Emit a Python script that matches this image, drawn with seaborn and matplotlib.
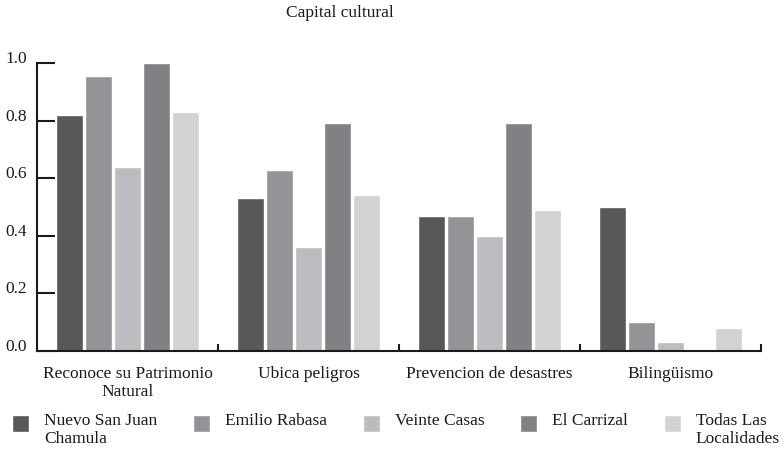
import numpy as np
import pandas as pd
import matplotlib
matplotlib.use("Agg")
import matplotlib.pyplot as plt
import seaborn as sns

categorias = ["Reconoce su Patrimonio\nNatural", "Ubica peligros",
              "Prevencion de desastres", "Bilingüismo"]
localidades = ["Nuevo San Juan\nChamula", "Emilio Rabasa", "Veinte Casas",
               "El Carrizal", "Todas Las\nLocalidades"]
nuevo_san_juan = [0.82, 0.53, 0.47, 0.50]
emilio_rabasa = [0.955, 0.63, 0.47, 0.10]
veinte_casas = [0.64, 0.36, 0.40, 0.03]
el_carrizal = [1.00, 0.79, 0.79, 0.00]
todas = [0.83, 0.54, 0.49, 0.08]
colores = ["#58585a", "#939497", "#bcbdc0", "#808184", "#d1d2d4"]

series = [nuevo_san_juan, emilio_rabasa, veinte_casas, el_carrizal, todas]
rows = []
for loc, vals in zip(localidades, series):
    for cat, v in zip(categorias, vals):
        rows.append({"cat": cat, "loc": loc, "val": v})
df = pd.DataFrame(rows)

sns.set_style("white")
plt.rcParams["font.family"] = ["Liberation Serif", "DejaVu Serif"]
txt = "#1a1a1a"
fs = 12.5

fig = plt.figure(figsize=(7.84, 4.51), dpi=100)
ax = fig.add_axes([37/784, 1-351/451, (761-37)/784, (351-63)/451])

sns.barplot(data=df, x="cat", y="val", hue="loc", palette=colores,
            width=0.8, gap=0.07, saturation=1, ax=ax, legend=True)

ax.set_ylim(0, 1.0)
ax.set_xlim(-0.5, 3.5)
ax.set_xlabel("")
ax.set_ylabel("")
ax.set_yticks([0, 0.2, 0.4, 0.6, 0.8, 1.0])
ax.set_yticklabels(["0.0", "0.2", "0.4", "0.6", "0.8", "1.0"])
ax.tick_params(axis="y", left=True, direction="in", length=13, width=1.5,
               labelsize=fs, pad=0, color=txt, labelcolor=txt)
for lab in ax.get_yticklabels():
    lab.set_horizontalalignment("left")
    lab.set_verticalalignment("baseline")
    lab.set_x(-0.044)
ax.tick_params(axis="x", which="major", bottom=False, length=0, labelsize=fs,
               pad=10.5, labelcolor=txt)
ax.set_xticks([0.5, 1.5, 2.5, 3.5], minor=True)
ax.tick_params(axis="x", which="minor", bottom=True, direction="in", length=5,
               width=1.5, color=txt)

sns.despine(ax=ax)
for s in ["left", "bottom"]:
    ax.spines[s].set_linewidth(1.5)
    ax.spines[s].set_color(txt)

handles, labels = ax.get_legend_handles_labels()
ax.legend_.remove()
# etiquetas de una linea con salto al final para alinear con la primera linea
labels = [l if "\n" in l else l + "\n" for l in labels]
leg = fig.legend(handles, labels, ncol=5, loc="upper left",
                 bbox_to_anchor=(12/784, 1-413/451), frameon=False,
                 fontsize=fs, handlelength=1.0, handleheight=1.15,
                 columnspacing=2.05, handletextpad=0.85, borderpad=0,
                 borderaxespad=0)
for t in leg.get_texts():
    t.set_color(txt)
for h in leg.legend_handles:
    h.set_y(h.get_y() + 5.0)

fig.text(340/784, 1-13/451, "Capital cultural", ha="center", va="center",
         fontsize=fs, color=txt)

fig.savefig("out.png", dpi=100)
